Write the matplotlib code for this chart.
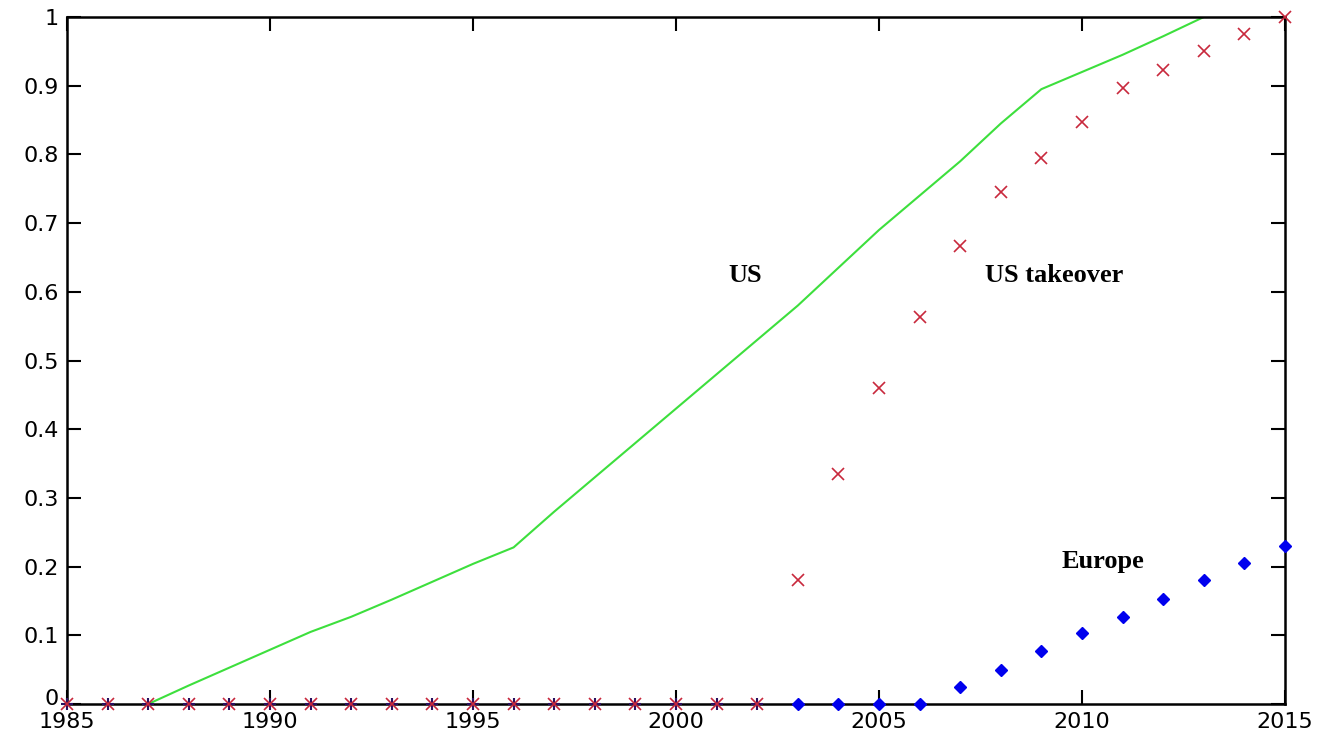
import matplotlib.pyplot as plt
import matplotlib.transforms as mtransforms
import numpy as np

# data
us_years = list(range(1987, 2014))
us_vals = [0.0, 0.027, 0.053, 0.079, 0.105, 0.127, 0.152, 0.178, 0.204, 0.228,
           0.28, 0.33, 0.38, 0.43, 0.48, 0.53, 0.58, 0.635, 0.69, 0.74,
           0.79, 0.845, 0.895, 0.92, 0.945, 0.972, 1.0]

take_years = list(range(1985, 2016))
take_vals = [0.0] * 18 + [0.18, 0.335, 0.46, 0.563, 0.667, 0.745, 0.795,
                          0.847, 0.897, 0.923, 0.95, 0.976, 1.0]

eu_years = list(range(2003, 2016))
eu_vals = [0.0, 0.0, 0.0, 0.0, 0.025, 0.05, 0.077, 0.103, 0.127, 0.153,
           0.18, 0.206, 0.23]
eu_zero_years = list(range(1985, 2003))

fig = plt.figure(figsize=(13.32, 7.4), dpi=100)
ax = fig.add_axes([0.0503, 0.0486, 0.9144, 0.9284])

ax.plot(us_years, us_vals, color='#3ddf3d', linewidth=1.5)
ax.plot(eu_zero_years, [0] * len(eu_zero_years), '+', color='#2a1060',
        markersize=9, markeredgewidth=1.5, zorder=3, clip_on=False)
ax.plot(take_years, take_vals, 'x', color='#c8283c', markersize=9,
        markeredgewidth=1.2, zorder=4, clip_on=False)
ax.plot(eu_years, eu_vals, 'D', color='#0000ee', markersize=6, zorder=5,
        clip_on=False)

ax.set_xlim(1985, 2015)
ax.set_ylim(0, 1)
ax.set_xticks(np.arange(1985, 2016, 5))
ax.set_yticks(np.arange(0, 1.01, 0.1))
ax.set_yticklabels(['0', '0.1', '0.2', '0.3', '0.4', '0.5', '0.6', '0.7',
                    '0.8', '0.9', '1'])
ax.tick_params(direction='in', top=True, right=True, length=10, width=1.5,
               labelsize=16)
ax.tick_params(axis='x', pad=6)
ax.tick_params(axis='y', pad=6)
for lab in ax.get_xticklabels() + ax.get_yticklabels():
    lab.set_family('DejaVu Sans')
for s in ax.spines.values():
    s.set_linewidth(1.8)

# lift the "0" label a touch so it clears "1985"
lab0 = ax.get_yticklabels()[0]
lab0.set_transform(lab0.get_transform() +
                   mtransforms.ScaledTranslation(0, 5 / 72, fig.dpi_scale_trans))

serif = dict(family='Liberation Serif', fontweight='bold', fontsize=19)
ax.text(2001.3, 0.614, 'US', **serif)
ax.text(2007.6, 0.614, 'US takeover', **serif)
ax.text(2009.5, 0.198, 'Europe', **serif)

plt.savefig('out.png', dpi=100)
